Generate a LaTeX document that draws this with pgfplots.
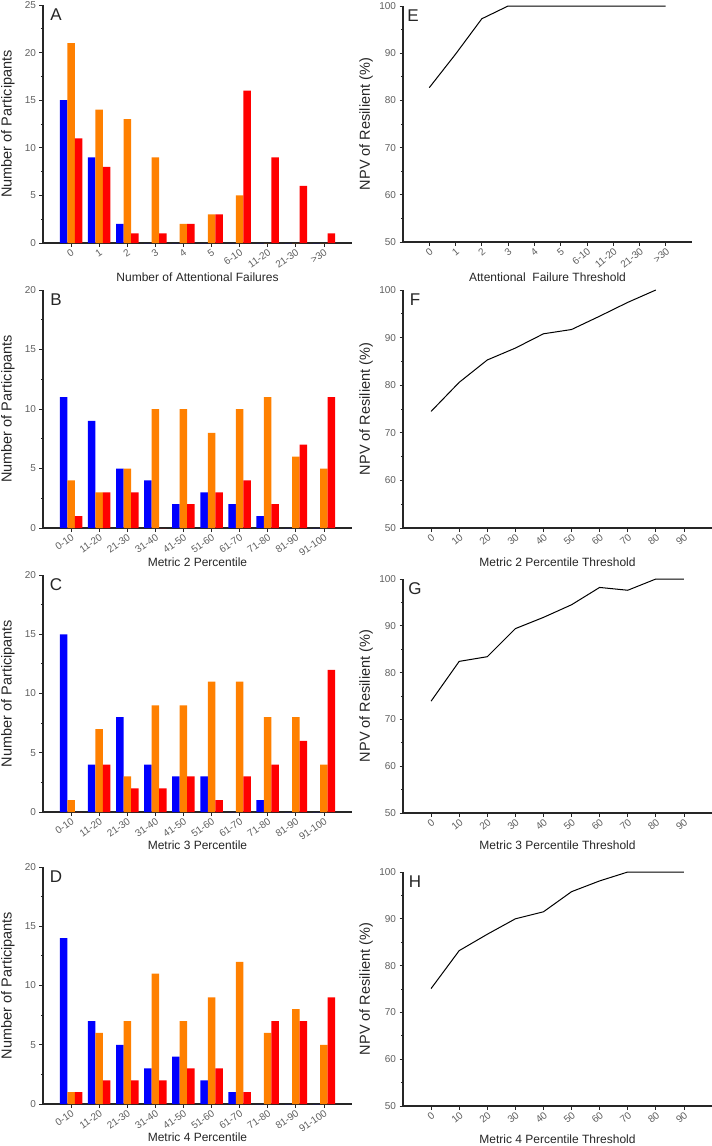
\documentclass[border=0pt]{standalone}
\usepackage{fontspec}
\setmainfont{Liberation Sans}
\usepackage{pgfplots}
\pgfplotsset{compat=1.18}
\definecolor{barblue}{RGB}{0,0,255}
\definecolor{barorange}{RGB}{255,128,0}
\definecolor{barred}{RGB}{255,0,0}
\definecolor{ticktext}{RGB}{95,95,95}
\tikzset{letter/.style={font=\fontsize{17}{18}\selectfont, text=black!85, anchor=center}}
\pgfplotsset{
  panel/.style={
    scale only axis,
    axis lines=left,
    axis line style={-, line width=1.3pt, black!85},
    tick align=outside,
    tick style={black!85, line width=0.8pt},
    major tick length=3.5pt,
    minor tick length=2pt,
    minor y tick num=1,
    /pgf/number format/assume math mode=true,
    tick label style={font=\fontsize{10}{12}\selectfont, text=ticktext},
    every axis x label/.style={at={(axis description cs:0.5,0)}, anchor=center, font=\fontsize{12}{14}\selectfont, text=black!85},
    every axis y label/.style={anchor=center, rotate=90, font=\fontsize{14.5}{16}\selectfont, text=black!85},
    clip=false,
  },
  barpanel/.style={panel, width=309pt, ybar=0pt, bar width=7.5pt,
    xmin=-1, xmax=10, ymin=0, ymax=20, ytick={0,5,...,25}, xtick={0,...,9},
    xticklabel style={rotate=35, anchor=north east, inner sep=1pt},
    xticklabels={0-10,11-20,21-30,31-40,41-50,51-60,61-70,71-80,81-90,91-100},
    ylabel={Number of Participants}, ylabel style={at={([xshift=-35pt]axis description cs:0,0.5)}}},
  linepanel/.style={panel, ymin=50, ymax=100, ytick={50,60,...,100},
    xmin=-10, xmax=100, xtick={0,10,...,90}, width=309pt,
    xticklabel style={rotate=40, anchor=north east, inner sep=1pt},
    ylabel={NPV of Resilient (\%)}, ylabel style={at={([xshift=-37pt]axis description cs:0,0.5)}}},
}
\begin{document}
\begin{tikzpicture}
\useasboundingbox (0,0) rectangle (712pt,-1146pt);

% ---------------- A ----------------
\begin{axis}[barpanel, at={(43pt,-243pt)}, anchor=south west, height=238pt,
  ymax=25, xticklabels={0,1,2,3,4,5,6-10,11-20,21-30,>30},
  xlabel={Number of Attentional Failures}, xlabel style={yshift=-34pt}]
\addplot[fill=barblue, draw=none] coordinates {(0,15) (1,9) (2,2) (3,0) (4,0) (5,0) (6,0) (7,0) (8,0) (9,0)};
\addplot[fill=barorange, draw=none] coordinates {(0,21) (1,14) (2,13) (3,9) (4,2) (5,3) (6,5) (7,0) (8,0) (9,0)};
\addplot[fill=barred, draw=none] coordinates {(0,11) (1,8) (2,1) (3,1) (4,2) (5,3) (6,16) (7,9) (8,6) (9,1)};
\node[letter, xshift=13pt, yshift=-10pt] at (rel axis cs:0,1) {A};
\end{axis}

% ---------------- B ----------------
\begin{axis}[barpanel, at={(43pt,-528pt)}, anchor=south west, height=238pt,
  xlabel={Metric 2 Percentile}, xlabel style={yshift=-34pt}]
\addplot[fill=barblue, draw=none] coordinates {(0,11) (1,9) (2,5) (3,4) (4,2) (5,3) (6,2) (7,1) (8,0) (9,0)};
\addplot[fill=barorange, draw=none] coordinates {(0,4) (1,3) (2,5) (3,10) (4,10) (5,8) (6,10) (7,11) (8,6) (9,5)};
\addplot[fill=barred, draw=none] coordinates {(0,1) (1,3) (2,3) (3,0) (4,2) (5,3) (6,4) (7,2) (8,7) (9,11)};
\node[letter, xshift=13pt, yshift=-10pt] at (rel axis cs:0,1) {B};
\end{axis}

% ---------------- C ----------------
\begin{axis}[barpanel, at={(43pt,-812pt)}, anchor=south west, height=237pt,
  xlabel={Metric 3 Percentile}, xlabel style={yshift=-33pt}]
\addplot[fill=barblue, draw=none] coordinates {(0,15) (1,4) (2,8) (3,4) (4,3) (5,3) (6,0) (7,1) (8,0) (9,0)};
\addplot[fill=barorange, draw=none] coordinates {(0,1) (1,7) (2,3) (3,9) (4,9) (5,11) (6,11) (7,8) (8,8) (9,4)};
\addplot[fill=barred, draw=none] coordinates {(0,0) (1,4) (2,2) (3,2) (4,3) (5,1) (6,3) (7,4) (8,6) (9,12)};
\node[letter, xshift=13pt, yshift=-10pt] at (rel axis cs:0,1) {C};
\end{axis}

% ---------------- D ----------------
\begin{axis}[barpanel, at={(43pt,-1104pt)}, anchor=south west, height=237pt,
  xlabel={Metric 4 Percentile}, xlabel style={yshift=-33pt}]
\addplot[fill=barblue, draw=none] coordinates {(0,14) (1,7) (2,5) (3,3) (4,4) (5,2) (6,1) (7,0) (8,0) (9,0)};
\addplot[fill=barorange, draw=none] coordinates {(0,1) (1,6) (2,7) (3,11) (4,7) (5,9) (6,12) (7,6) (8,8) (9,5)};
\addplot[fill=barred, draw=none] coordinates {(0,1) (1,2) (2,2) (3,2) (4,3) (5,3) (6,1) (7,7) (8,7) (9,9)};
\node[letter, xshift=13pt, yshift=-10pt] at (rel axis cs:0,1) {D};
\end{axis}

% ---------------- E ----------------
\begin{axis}[linepanel, at={(403pt,-242pt)}, anchor=south west, width=289pt, height=236pt,
  xmin=-1, xmax=10, xtick={0,...,9}, xticklabels={0,1,2,3,4,5,6-10,11-20,21-30,>30},
  xlabel={Attentional\ \ Failure Threshold}, xlabel style={yshift=-35pt}]
\addplot[black, line width=1pt] coordinates {(0,82.7) (1,89.8) (2,97.3) (3,100) (4,100) (5,100) (6,100) (7,100) (8,100) (9,100)};
\node[letter, xshift=10pt, yshift=-10pt] at (rel axis cs:0,1) {E};
\end{axis}

% ---------------- F ----------------
\begin{axis}[linepanel, at={(403pt,-528pt)}, anchor=south west, height=238pt,
  xlabel={Metric 2 Percentile Threshold}, xlabel style={yshift=-34pt}]
\addplot[black, line width=1pt] coordinates {(0,74.5) (10,80.6) (20,85.3) (30,87.8) (40,90.8) (50,91.7) (60,94.5) (70,97.4) (80,100)};
\node[letter, xshift=12pt, yshift=-10pt] at (rel axis cs:0,1) {F};
\end{axis}

% ---------------- G ----------------
\begin{axis}[linepanel, at={(403pt,-813pt)}, anchor=south west, height=234pt,
  xlabel={Metric 3 Percentile Threshold}, xlabel style={yshift=-32pt}]
\addplot[black, line width=1pt] coordinates {(0,73.9) (10,82.4) (20,83.4) (30,89.4) (40,91.8) (50,94.5) (60,98.2) (70,97.6) (80,100) (90,100)};
\node[letter, xshift=12pt, yshift=-10pt] at (rel axis cs:0,1) {G};
\end{axis}

% ---------------- H ----------------
\begin{axis}[linepanel, at={(403pt,-1106pt)}, anchor=south west, height=234pt,
  xlabel={Metric 4 Percentile Threshold}, xlabel style={yshift=-33pt}]
\addplot[black, line width=1pt] coordinates {(0,75.1) (10,83.2) (20,86.7) (30,90.0) (40,91.5) (50,95.8) (60,98.1) (70,100) (80,100) (90,100)};
\node[letter, xshift=12pt, yshift=-10pt] at (rel axis cs:0,1) {H};
\end{axis}
\end{tikzpicture}
\end{document}
